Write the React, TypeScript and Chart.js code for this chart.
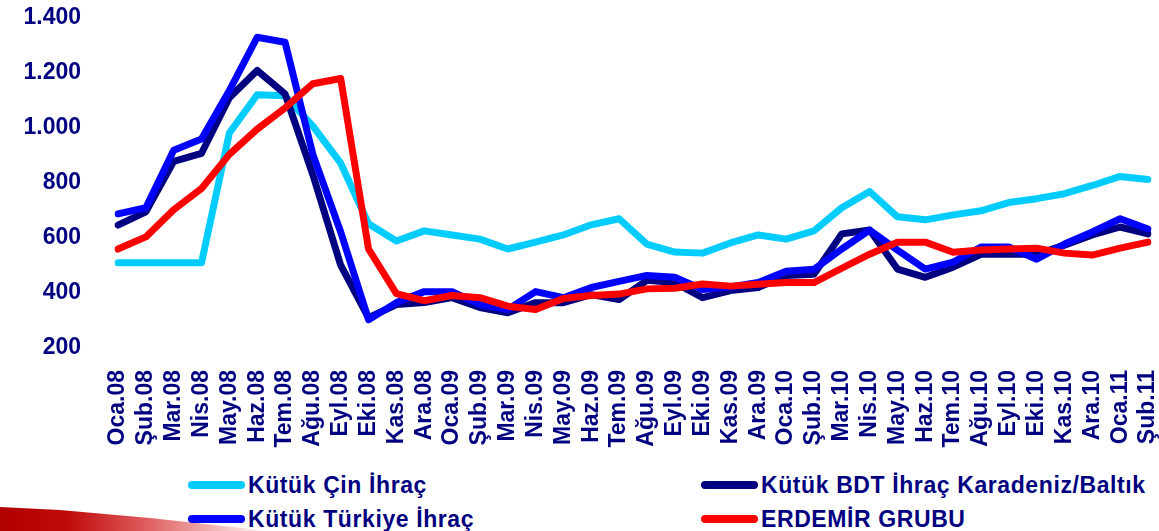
import React, { useEffect, useRef } from "react";
import { Chart, registerables } from "chart.js";

Chart.register(...registerables);

const categories = [
  "Oca.08", "Şub.08", "Mar.08", "Nis.08", "May.08", "Haz.08", "Tem.08", "Ağu.08", "Eyl.08", "Eki.08", "Kas.08", "Ara.08",
  "Oca.09", "Şub.09", "Mar.09", "Nis.09", "May.09", "Haz.09", "Tem.09", "Ağu.09", "Eyl.09", "Eki.09", "Kas.09", "Ara.09",
  "Oca.10", "Şub.10", "Mar.10", "Nis.10", "May.10", "Haz.10", "Tem.10", "Ağu.10", "Eyl.10", "Eki.10", "Kas.10", "Ara.10",
  "Oca.11", "Şub.11",
];

const cinIhrac = [
  510, 510, 510, 510, 982, 1121, 1117, 1007, 872, 652, 589, 626,
  611, 596, 560, 585, 611, 648, 670, 578, 549, 545, 582, 611,
  596, 626, 710, 769, 677, 666, 684, 699, 729, 743, 761, 791,
  824, 813,
];

const bdtIhrac = [
  647, 695, 879, 908, 1110, 1209, 1124, 830, 501, 310, 358, 365,
  383, 347, 328, 365, 365, 394, 376, 446, 438, 383, 409, 420,
  464, 468, 615, 629, 487, 457, 494, 541, 541, 541, 574, 611,
  640, 615,
];

const turkiyeIhrac = [
  688, 710, 919, 960, 1136, 1330, 1312, 904, 622, 303, 365, 405,
  405, 358, 340, 405, 383, 420, 442, 464, 457, 413, 422, 438,
  479, 486, 560, 629, 556, 487, 512, 567, 567, 523, 578, 622,
  670, 633,
];

const erdemirGrubu = [
  560, 604, 703, 780, 904, 996, 1073, 1161, 1180, 560, 398, 372,
  391, 383, 352, 340, 380, 391, 396, 415, 417, 433, 425, 432,
  438, 438, 490, 541, 585, 585, 548, 556, 560, 563, 545, 538,
  563, 585,
];

const yMin = 200;
const yMax = 1400;
const yStep = 200;

const NAVY = "#000080";
const FONT = "'Liberation Sans', Arial, sans-serif";

const seriesDefs = [
  { label: "Kütük Çin İhraç", data: cinIhrac, color: "#00CCFF", order: 3 },
  { label: "Kütük BDT İhraç Karadeniz/Baltık", data: bdtIhrac, color: "#000080", order: 2 },
  { label: "Kütük Türkiye İhraç", data: turkiyeIhrac, color: "#0000FF", order: 1 },
  { label: "ERDEMİR GRUBU", data: erdemirGrubu, color: "#FF0000", order: 0 },
];

function formatTick(v: number) {
  return v >= 1000 ? String(v).replace(/(\d)(\d{3})$/, "$1.$2") : String(v);
}

function LegendItem({ color, text, left, top }: { color: string; text: string; left: number; top: number }) {
  return (
    <div style={{ position: "absolute", left, top, height: 28, display: "flex", alignItems: "center" }}>
      <div style={{ width: 57, height: 8, borderRadius: 4, background: color, marginRight: 3 }} />
      <span style={{ fontFamily: FONT, fontWeight: "bold", fontSize: 23, color: NAVY, letterSpacing: 0.6, whiteSpace: "nowrap" }}>
        {text}
      </span>
    </div>
  );
}

export default function App() {
  const canvasRef = useRef<HTMLCanvasElement | null>(null);

  useEffect(() => {
    if (!canvasRef.current) return;
    const chart = new Chart(canvasRef.current, {
      type: "line",
      data: {
        labels: categories,
        datasets: seriesDefs.map((s) => ({
          label: s.label,
          data: s.data,
          borderColor: s.color,
          backgroundColor: s.color,
          borderWidth: 7,
          pointRadius: 0,
          tension: 0,
          fill: false,
          order: s.order,
          borderJoinStyle: "round" as const,
          borderCapStyle: "round" as const,
        })),
      },
      options: {
        animation: false,
        responsive: false,
        layout: { autoPadding: false, padding: { top: 18, right: 11, left: 0, bottom: 0 } },
        plugins: { legend: { display: false }, tooltip: { enabled: false } },
        scales: {
          x: {
            offset: false,
            grid: { display: false, drawTicks: false },
            border: { display: false },
            ticks: {
              autoSkip: false,
              maxRotation: 90,
              minRotation: 90,
              padding: 22,
              color: NAVY,
              font: { family: FONT, weight: "bold", size: 23 },
            },
            afterFit: (s: any) => {
              s.height = 112;
              s.paddingLeft = 0;
              s.paddingRight = 0;
            },
          },
          y: {
            min: yMin,
            max: yMax,
            grid: { display: false, drawTicks: false },
            border: { display: false },
            ticks: {
              stepSize: yStep,
              padding: 37,
              color: NAVY,
              font: { family: FONT, weight: "bold", size: 23 },
              callback: (v: any) => formatTick(Number(v)),
            },
            afterFit: (s: any) => {
              s.width = 118;
              s.paddingTop = 0;
              s.paddingBottom = 0;
            },
          },
        },
      },
    });
    return () => chart.destroy();
  }, []);

  return (
    <div style={{ position: "fixed", left: 0, top: 0, width: 1159, height: 531, background: "#fff", overflow: "hidden" }}>
      <canvas ref={canvasRef} width={1159} height={460} style={{ position: "absolute", left: 0, top: 0, width: 1159, height: 460 }} />
      <div
        style={{
          position: "absolute",
          left: 0,
          top: 500,
          width: 270,
          height: 31,
          background: "linear-gradient(to right, #b00000 0%, #c00a0a 25%, #e06060 55%, rgba(255,255,255,0) 100%)",
          clipPath: "polygon(0px 7px, 60px 10px, 150px 18px, 270px 31px, 0px 31px)",
        }}
      />
      <LegendItem color="#00CCFF" text={seriesDefs[0].label} left={188} top={471} />
      <LegendItem color="#000080" text={seriesDefs[1].label} left={701} top={471} />
      <LegendItem color="#0000FF" text={seriesDefs[2].label} left={188} top={505} />
      <LegendItem color="#FF0000" text={seriesDefs[3].label} left={701} top={505} />
    </div>
  );
}
